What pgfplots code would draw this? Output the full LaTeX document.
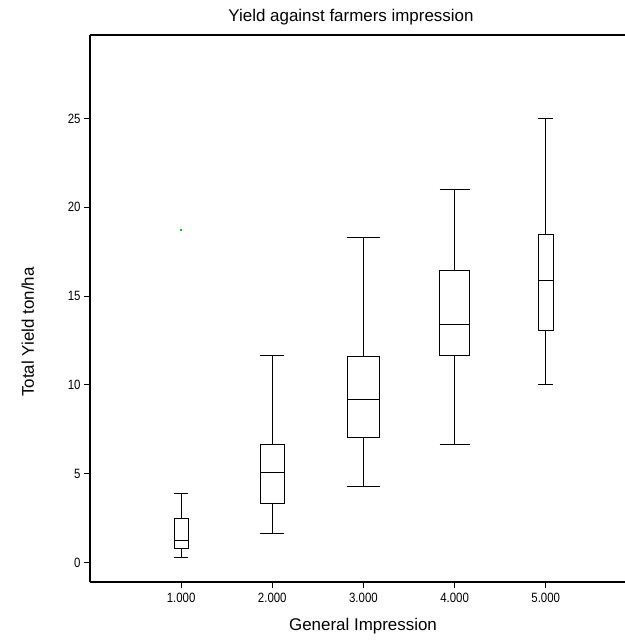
\documentclass[border=0pt]{standalone}
\usepackage{fontspec}
\setmainfont{Liberation Sans}
\newfontfamily\tickfont{Liberation Sans}[FakeStretch=0.85]
\usepackage{pgfplots}
\pgfplotsset{compat=1.18}
\usepgfplotslibrary{statistics}

\begin{document}
\begin{tikzpicture}
% page = 625 x 641 px, axis box 535 x 547 px with its south west corner at the origin
\useasboundingbox (-90bp,-59bp) rectangle (535bp,582bp);
\begin{axis}[
  width=535bp, height=547bp, scale only axis,
  xmin=0, xmax=5.87, ymin=-1.1, ymax=29.7,
  axis lines=left, axis line style={-, line width=1.1bp},
  tick align=outside, major tick length=6bp,
  tick style={black, line width=0.8bp},
  xtick={1,2,3,4,5},
  xticklabels={1.000,2.000,3.000,4.000,5.000},
  ytick={0,5,10,15,20,25},
  /pgf/number format/assume math mode=true,
  tick label style={font=\tickfont\fontsize{13.5}{15}\selectfont},
  xticklabel style={yshift=-2bp},
  boxplot/draw direction=y,
]
\addplot[black, line width=0.8bp, boxplot prepared={lower whisker=0.28,
  lower quartile=0.79, median=1.24, upper quartile=2.48, upper whisker=3.89,
  draw position=1, box extend=0.155, whisker extend=0.155}] coordinates {};
\addplot[black, line width=0.8bp, boxplot prepared={lower whisker=1.62,
  lower quartile=3.35, median=5.05, upper quartile=6.66, upper whisker=11.65,
  draw position=2, box extend=0.26, whisker extend=0.26}] coordinates {};
\addplot[black, line width=0.8bp, boxplot prepared={lower whisker=4.26,
  lower quartile=7.04, median=9.16, upper quartile=11.63, upper whisker=18.28,
  draw position=3, box extend=0.36, whisker extend=0.36}] coordinates {};
\addplot[black, line width=0.8bp, boxplot prepared={lower whisker=6.62,
  lower quartile=11.65, median=13.42, upper quartile=16.44, upper whisker=20.98,
  draw position=4, box extend=0.33, whisker extend=0.33}] coordinates {};
\addplot[black, line width=0.8bp, boxplot prepared={lower whisker=10.01,
  lower quartile=13.06, median=15.87, upper quartile=18.46, upper whisker=25.0,
  draw position=5, box extend=0.16, whisker extend=0.16}] coordinates {};
% stray green pixel in the original
\addplot[only marks, mark=square*, mark size=0.5bp, green!80!black] coordinates {(1.0,18.75)};
\end{axis}
\draw[line width=1.1bp] (0,547bp) -- (535bp,547bp);
\node[anchor=base, font=\fontsize{17}{20}\selectfont] at (261bp,560bp)
  {Yield against farmers impression};
\node[anchor=base, font=\fontsize{17}{20}\selectfont] at (273bp,-48bp)
  {General Impression};
\node[anchor=base, rotate=90, font=\fontsize{17}{20}\selectfont] at (-56bp,250bp)
  {Total Yield ton/ha};
\end{tikzpicture}
\end{document}
